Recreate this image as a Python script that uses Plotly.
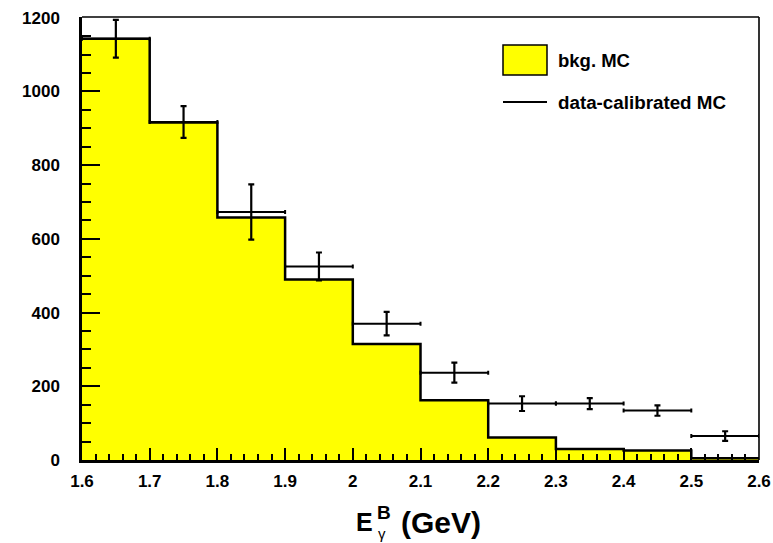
import plotly.graph_objects as go

# ---- data ----
bin_edges = [1.6, 1.7, 1.8, 1.9, 2.0, 2.1, 2.2, 2.3, 2.4, 2.5, 2.6]
bin_centers = [1.65, 1.75, 1.85, 1.95, 2.05, 2.15, 2.25, 2.35, 2.45, 2.55]
bkg_mc = [1143, 916, 658, 490, 315, 162, 61, 30, 26, 5]
calib_mc = [1143, 917, 673, 525, 370, 237, 153, 153, 134, 65]
calib_err = [51, 43, 75, 38, 32, 27, 20, 15, 14, 13]
half_width = [0.05] * 10
x_tick_vals = [1.6, 1.7, 1.8, 1.9, 2.0, 2.1, 2.2, 2.3, 2.4, 2.5, 2.6]
x_tick_text = ["1.6", "1.7", "1.8", "1.9", "2", "2.1", "2.2", "2.3", "2.4", "2.5", "2.6"]
y_tick_vals = [0, 200, 400, 600, 800, 1000, 1200]
y_tick_text = ["0", "200", "400", "600", "800", "1000", "1200"]

FONT = "Liberation Sans"

fig = go.Figure()

# histogram as step with fill
fig.add_trace(go.Scatter(
    x=bin_edges,
    y=bkg_mc + [bkg_mc[-1]],
    mode="lines",
    line=dict(shape="hv", color="black", width=2.5),
    fill="tozeroy",
    fillcolor="#ffff00",
    showlegend=False,
    hoverinfo="skip",
))

# data-calibrated MC points with errors
fig.add_trace(go.Scatter(
    x=bin_centers,
    y=calib_mc,
    mode="markers",
    marker=dict(size=1, color="black"),
    error_x=dict(type="data", array=half_width, color="black", thickness=2, width=2),
    error_y=dict(type="data", array=calib_err, color="black", thickness=2.2, width=3),
    showlegend=False,
))

L, R, T, B = 82, 14, 17, 83
W, H = 773, 543
pw, ph = W - L - R, H - T - B

def px_x(x):
    return (x - L) / pw

def px_y(y):
    return (H - B - y) / ph

shapes = [
    # top and right frame
    dict(type="line", xref="paper", yref="paper", x0=0, x1=1, y0=1, y1=1,
         line=dict(color="black", width=1.3)),
    dict(type="line", xref="paper", yref="paper", x0=1, x1=1, y0=0, y1=1,
         line=dict(color="black", width=1.6)),
    # legend box
    dict(type="rect", xref="paper", yref="paper",
         x0=px_x(503), x1=px_x(547), y0=px_y(75), y1=px_y(45),
         fillcolor="#ffff00", line=dict(color="black", width=1.5)),
    # legend line
    dict(type="line", xref="paper", yref="paper",
         x0=px_x(503), x1=px_x(547), y0=px_y(102), y1=px_y(102),
         line=dict(color="black", width=2)),
]

annotations = [
    dict(text="<b>bkg. MC</b>", xref="paper", yref="paper", x=px_x(556), y=px_y(60),
         xanchor="left", yanchor="middle", showarrow=False,
         font=dict(family=FONT, size=18.5, color="black")),
    dict(text="<b>data-calibrated MC</b>", xref="paper", yref="paper", x=px_x(556), y=px_y(102),
         xanchor="left", yanchor="middle", showarrow=False,
         font=dict(family=FONT, size=18.8, color="black")),
    # axis title pieces
    dict(text="<b>E</b>", xref="paper", yref="paper", x=px_x(375), y=px_y(522),
         xanchor="right", yanchor="middle", showarrow=False,
         font=dict(family=FONT, size=25, color="black")),
    dict(text="<b>B</b>", xref="paper", yref="paper", x=px_x(375), y=px_y(512),
         xanchor="left", yanchor="middle", showarrow=False,
         font=dict(family=FONT, size=19, color="black")),
    dict(text="γ", xref="paper", yref="paper", x=px_x(376), y=px_y(533),
         xanchor="left", yanchor="middle", showarrow=False,
         font=dict(family=FONT, size=15, color="black")),
    dict(text="<b>(GeV)</b>", xref="paper", yref="paper", x=px_x(399), y=px_y(522),
         xanchor="left", yanchor="middle", showarrow=False,
         font=dict(family=FONT, size=30, color="black")),
]

fig.update_layout(
    width=W, height=H,
    margin=dict(l=L, r=R, t=T, b=B, pad=0, autoexpand=False),
    paper_bgcolor="white",
    plot_bgcolor="white",
    showlegend=False,
    shapes=shapes,
    annotations=annotations,
    font=dict(family=FONT, color="black"),
)

fig.update_xaxes(
    range=[1.6, 2.6],
    automargin=False,
    ticklabeloverflow="allow",
    showgrid=False, zeroline=False,
    showline=True, linecolor="black", linewidth=2.5, mirror=False,
    ticks="inside", ticklen=12, tickwidth=2, tickcolor="black",
    tickvals=x_tick_vals, ticktext=x_tick_text,
    tickfont=dict(family=FONT, size=17, color="black", weight="bold"),
    ticklabelstandoff=4,
    minor=dict(ticks="inside", dtick=0.02, ticklen=6, tickwidth=2, tickcolor="black", showgrid=False),
)
fig.update_yaxes(
    range=[0, 1202],
    automargin=False,
    ticklabeloverflow="allow",
    showgrid=False, zeroline=False,
    showline=True, linecolor="black", linewidth=2.5, mirror=False,
    ticks="inside", ticklen=18, tickwidth=2, tickcolor="black",
    tickvals=y_tick_vals, ticktext=y_tick_text,
    tickfont=dict(family=FONT, size=17, color="black", weight="bold"),
    ticklabelstandoff=16,
    minor=dict(ticks="inside", dtick=50, ticklen=9, tickwidth=2, tickcolor="black", showgrid=False),
)

fig.write_html("out.html")
